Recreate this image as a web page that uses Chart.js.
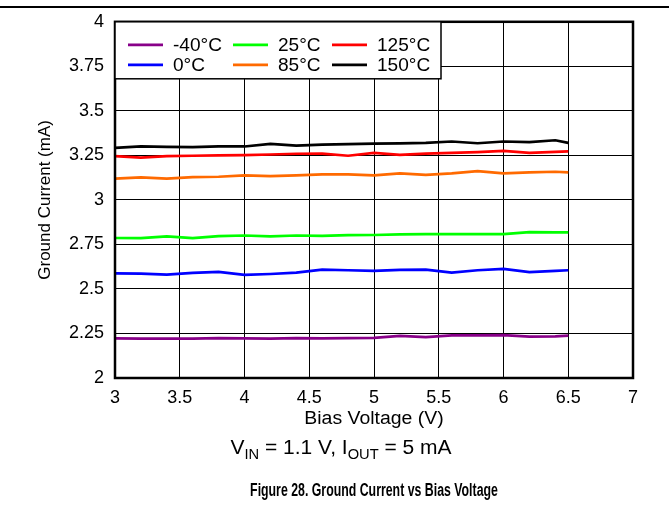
<!DOCTYPE html>
<html>
<head>
<meta charset="utf-8">
<script src="https://cdn.jsdelivr.net/npm/chart.js@4.4.1/dist/chart.umd.min.js"></script>
<style>
  html,body{margin:0;padding:0;background:#fff;}
  #wrap{position:relative;width:669px;height:508px;}
</style>
</head>
<body>
<div id="wrap"><canvas id="c" width="669" height="508"></canvas></div>
<script>
// ---- data ----
const biasVoltage = [3.0,3.2,3.4,3.6,3.8,4.0,4.2,4.4,4.6,4.8,5.0,5.2,5.4,5.6,5.8,6.0,6.2,6.4,6.5];
const seriesLabels = ['-40°C','25°C','125°C','0°C','85°C','150°C'];
const gndM40 = [2.222,2.221,2.221,2.221,2.224,2.222,2.221,2.224,2.222,2.224,2.225,2.236,2.229,2.239,2.239,2.241,2.232,2.234,2.238];
const gnd25  = [2.786,2.785,2.795,2.785,2.797,2.800,2.795,2.800,2.798,2.802,2.803,2.806,2.808,2.808,2.808,2.808,2.819,2.818,2.818];
const gnd125 = [3.246,3.237,3.246,3.248,3.250,3.251,3.255,3.259,3.260,3.248,3.264,3.253,3.260,3.264,3.268,3.275,3.264,3.270,3.272];
const gnd0   = [2.588,2.586,2.581,2.590,2.596,2.579,2.584,2.592,2.609,2.605,2.601,2.607,2.609,2.592,2.605,2.613,2.594,2.601,2.605];
const gnd85  = [3.119,3.127,3.119,3.128,3.130,3.138,3.133,3.138,3.143,3.143,3.138,3.149,3.141,3.149,3.162,3.149,3.155,3.158,3.155];
const gnd150 = [3.292,3.300,3.298,3.296,3.300,3.300,3.315,3.305,3.310,3.313,3.316,3.317,3.320,3.328,3.318,3.328,3.324,3.335,3.320];
const seriesColors = ['#880088','#00ff00','#ff0000','#0000ff','#ff6a00','#000000'];
const xTicks = [3,3.5,4,4.5,5,5.5,6,6.5,7];
const yTicks = [2,2.25,2.5,2.75,3,3.25,3.5,3.75,4];

const FONT = "'Liberation Sans', Arial, sans-serif";
const allSeries = [gndM40, gnd25, gnd125, gnd0, gnd85, gnd150];

const datasets = allSeries.map((s, i) => ({
  label: seriesLabels[i],
  data: s.map((v, k) => ({x: biasVoltage[k], y: v})),
  borderColor: seriesColors[i],
  backgroundColor: seriesColors[i],
  borderWidth: 2.7,
  pointRadius: 0,
  tension: 0,
  fill: false
}));

function scaledText(ctx, text, x, y, sx, align) {
  ctx.save();
  ctx.translate(x, y);
  ctx.scale(sx, 1);
  ctx.textAlign = align || 'center';
  ctx.fillText(text, 0, 0);
  ctx.restore();
}

const decor = {
  id: 'decor',
  afterDraw(chart) {
    const ctx = chart.ctx;
    const a = chart.chartArea;
    ctx.save();
    // top rule
    ctx.strokeStyle = '#000';
    ctx.lineWidth = 2;
    ctx.beginPath(); ctx.moveTo(0, 7); ctx.lineTo(669, 7); ctx.stroke();
    // frame
    ctx.lineWidth = 2.5;
    ctx.strokeRect(a.left, a.top, a.right - a.left, a.bottom - a.top);

    // legend
    const lx = a.left, ly = a.top, lw = 326, lh = 57;
    ctx.fillStyle = '#fff';
    ctx.fillRect(lx, ly, lw, lh);
    ctx.lineWidth = 1.5;
    ctx.strokeRect(lx, ly, lw, lh);
    ctx.font = '18px ' + FONT;
    ctx.textBaseline = 'middle';
    const colX = [lx + 13, lx + 118, lx + 217];
    const rowY = [ly + 23, ly + 43];
    chart.data.datasets.forEach((ds, i) => {
      const c = i % 3, r = Math.floor(i / 3);
      const x = colX[c], y = rowY[r];
      ctx.strokeStyle = ds.borderColor;
      ctx.lineWidth = 2.7;
      ctx.beginPath(); ctx.moveTo(x, y); ctx.lineTo(x + 35, y); ctx.stroke();
      ctx.fillStyle = '#000';
      scaledText(ctx, ds.label, x + 45, y + 1, 1.06, 'left');
    });

    // y axis title
    ctx.fillStyle = '#000';
    ctx.save();
    ctx.translate(45, (a.top + a.bottom) / 2);
    ctx.rotate(-Math.PI / 2);
    ctx.textAlign = 'center';
    ctx.textBaseline = 'middle';
    ctx.font = '17px ' + FONT;
    ctx.fillText('Ground Current (mA)', 0, 0);
    ctx.restore();

    const cx = (a.left + a.right) / 2;
    ctx.textBaseline = 'middle';
    ctx.font = '18px ' + FONT;
    scaledText(ctx, 'Bias Voltage (V)', cx, 419, 1.08, 'center');

    // condition line with subscripts
    const sx = 1.05;
    const parts = [
      ['V', 20, 0], ['IN', 14, 5], [' = 1.1 V, I', 20, 0], ['OUT', 14, 5], [' = 5 mA', 20, 0]
    ];
    let total = 0;
    parts.forEach(p => { ctx.font = p[1] + 'px ' + FONT; total += ctx.measureText(p[0]).width * sx; });
    let x = 341 - total / 2;
    ctx.textBaseline = 'alphabetic';
    parts.forEach(p => {
      ctx.font = p[1] + 'px ' + FONT;
      scaledText(ctx, p[0], x, 454 + p[2], sx, 'left');
      x += ctx.measureText(p[0]).width * sx;
    });

    ctx.textBaseline = 'middle';
    ctx.font = 'bold 18px ' + FONT;
    scaledText(ctx, 'Figure 28. Ground Current vs Bias Voltage', cx, 491, 0.685, 'center');
    ctx.restore();
  }
};

new Chart(document.getElementById('c'), {
  type: 'line',
  data: { datasets },
  plugins: [decor],
  options: {
    responsive: false,
    animation: false,
    events: [],
    layout: { padding: { top: 20, right: 36, left: 0, bottom: 0 } },
    plugins: { legend: { display: false }, tooltip: { enabled: false } },
    scales: {
      x: {
        type: 'linear',
        min: xTicks[0], max: xTicks[xTicks.length - 1],
        afterBuildTicks(s) { s.ticks = xTicks.map(v => ({value: v})); },
        afterFit(s) { s.height = 130; },
        grid: { color: '#000', lineWidth: 1, drawTicks: false },
        border: { display: false },
        ticks: {
          color: '#000', padding: 9, maxRotation: 0, autoSkip: false,
          font: { family: FONT, size: 18 },
          callback: v => String(+v.toFixed(2))
        }
      },
      y: {
        min: yTicks[0], max: yTicks[yTicks.length - 1],
        afterBuildTicks(s) { s.ticks = yTicks.map(v => ({value: v})); },
        afterFit(s) { s.width = 115; },
        grid: { color: '#000', lineWidth: 1, drawTicks: false },
        border: { display: false },
        ticks: {
          color: '#000', padding: 11, autoSkip: false,
          font: { family: FONT, size: 18 },
          callback: v => String(+v.toFixed(2))
        }
      }
    }
  }
});
</script>
</body>
</html>
